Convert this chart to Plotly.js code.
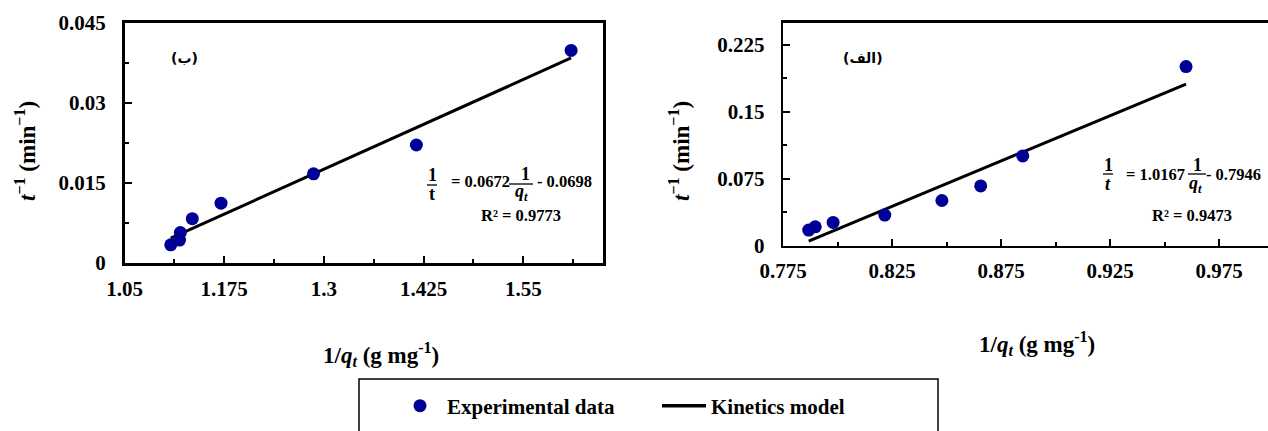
<!DOCTYPE html>
<html>
<head>
<meta charset="utf-8">
<script src="https://cdn.plot.ly/plotly-3.0.1.min.js"></script>
<style>html,body{margin:0;padding:0;overflow:hidden;background:#fff}#chart{width:1268px;height:431px}</style>
</head>
<body>
<div id="chart"></div>
<script>
// ---- data ----
const leftX  = [1.108, 1.119, 1.120, 1.135, 1.171, 1.287, 1.416, 1.610];
const leftY  = [0.0034, 0.0043, 0.0057, 0.0083, 0.0112, 0.0167, 0.0221, 0.0398];
const rightX = [0.7867, 0.7897, 0.7979, 0.8216, 0.8478, 0.8656, 0.8849, 0.9598];
const rightY = [0.0175, 0.0212, 0.0261, 0.0343, 0.0507, 0.0670, 0.1006, 0.2008];
const leftSlope = 0.0672, leftIntercept = -0.0698, leftR2 = '0.9773';
const rightSlope = 1.0167, rightIntercept = -0.7946, rightR2 = '0.9473';
const seriesNames = ['Experimental data', 'Kinetics model'];
const panelLabels = ['(ب)', '(الف)'];
// tick labels
const leftXTicks  = ['1.05', '1.175', '1.3', '1.425', '1.55'];
const leftYTicks  = ['0', '0.015', '0.03', '0.045'];
const rightXTicks = ['0.775', '0.825', '0.875', '0.925', '0.975'];
const rightYTicks = ['0', '0.075', '0.15', '0.225'];

// ---- helpers ----
const W = 1268, H = 431;
const px = x => x / W;
const py = y => 1 - y / H;
const FONT = 'Liberation Serif';
const ARFONT = 'DejaVu Sans';
const DOT = '#000099';
const b = s => '<b>' + s + '</b>';

function fitLine(xs, m, c) {
  const x0 = Math.min(...xs), x1 = Math.max(...xs);
  return {x: [x0, x1], y: [m * x0 + c, m * x1 + c]};
}
const lFit = fitLine(leftX, leftSlope, leftIntercept);
const rFit = fitLine(rightX, rightSlope, rightIntercept);

const traces = [
  {x: lFit.x, y: lFit.y, mode: 'lines', line: {color: 'black', width: 3}, name: b(seriesNames[1]), xaxis: 'x', yaxis: 'y', showlegend: false},
  {x: leftX, y: leftY, mode: 'markers', marker: {color: DOT, size: 13}, name: b(seriesNames[0]), xaxis: 'x', yaxis: 'y', showlegend: true},
  {x: [null], y: [null], mode: 'lines', line: {color: 'black', width: 3.5}, name: b(seriesNames[1]), xaxis: 'x', yaxis: 'y', showlegend: true},
  {x: rFit.x, y: rFit.y, mode: 'lines', line: {color: 'black', width: 3}, name: b(seriesNames[1]), xaxis: 'x2', yaxis: 'y2', showlegend: false},
  {x: rightX, y: rightY, mode: 'markers', marker: {color: DOT, size: 13}, name: b(seriesNames[0]), xaxis: 'x2', yaxis: 'y2', showlegend: false}
];

const tickFont = {family: FONT, size: 21, color: 'black'};
function axis(labels, extra) {
  return Object.assign({
    showgrid: false, zeroline: false, showline: true, linecolor: 'black', linewidth: 2.5,
    mirror: true, ticks: 'inside', ticklen: 7, tickwidth: 2, tickcolor: 'black',
    tickfont: tickFont, ticklabelstandoff: 12, fixedrange: true,
    tickmode: 'array', tickvals: labels.map(Number), ticktext: labels.map(b)
  }, extra);
}

const annFont = (size, fam) => ({family: fam || FONT, size: size, color: 'black'});
function ann(text, x, y, size, xanchor, extra) {
  return Object.assign({text: b(text), xref: 'paper', yref: 'paper', x: px(x), y: py(y), xanchor: xanchor || 'center', yanchor: 'middle', showarrow: false, font: annFont(size)}, extra || {});
}
function bar(x0, x1, y) {
  return {type: 'line', xref: 'paper', yref: 'paper', x0: px(x0), x1: px(x1), y0: py(y), y1: py(y), line: {color: 'black', width: 1.3}};
}

const yTitle = '<i>t</i><sup>−1</sup> (min<sup>−1</sup>)';
const xTitle = '1/<i>q<sub>t</sub></i> (g mg<sup>-1</sup>)';

const annotations = [
  ann(yTitle, 25, 151, 23, 'center', {textangle: -90}),
  ann(yTitle, 679, 151, 23, 'center', {textangle: -90}),
  ann(xTitle, 381, 354, 23),
  ann(xTitle, 1037, 343, 23),
  ann(panelLabels[0], 184, 58, 14, 'center', {font: annFont(14, ARFONT)}),
  ann(panelLabels[1], 863, 58, 14, 'center', {font: annFont(14, ARFONT)}),
  // left equation
  ann('1', 432, 175, 18),
  ann('t', 432, 194, 18),
  ann('= ' + leftSlope.toFixed(4), 449, 182, 16.5, 'left'),
  ann('1', 525, 174, 18),
  ann('<i>q<sub>t</sub></i>', 521, 193, 18),
  ann('- ' + Math.abs(leftIntercept).toFixed(4), 535, 182, 16.5, 'left'),
  ann('R² = ' + leftR2, 521, 215, 16.5),
  // right equation
  ann('1', 1108, 165, 18),
  ann('<i>t</i>', 1108, 184, 18),
  ann('= ' + rightSlope.toFixed(4), 1124, 174, 16.5, 'left'),
  ann('1', 1197, 165, 18),
  ann('<i>q<sub>t</sub></i>', 1195, 184, 18),
  ann('- ' + Math.abs(rightIntercept).toFixed(4), 1204, 174, 16.5, 'left'),
  ann('R² = ' + rightR2, 1192, 215, 16.5)
];

const shapes = [
  bar(427, 437, 185), bar(509, 533, 184),
  bar(1103, 1113, 174), bar(1188, 1206, 174),
  {type: 'rect', xref: 'paper', yref: 'paper', x0: px(359), x1: px(938), y0: py(379), y1: py(470), line: {color: 'black', width: 1.5}, fillcolor: 'rgba(0,0,0,0)'}
];

const minor = (d, t0) => ({dtick: d, tick0: t0, ticks: 'inside', ticklen: 4, tickwidth: 2, tickcolor: 'black'});

const layout = {
  width: W, height: H,
  margin: {l: 0, r: 0, t: 0, b: 0},
  paper_bgcolor: 'white', plot_bgcolor: 'white',
  showlegend: true,
  legend: {orientation: 'h', x: px(393), xanchor: 'left', y: py(406), yanchor: 'middle',
           font: {family: FONT, size: 21, color: 'black'},
           itemwidth: 44, entrywidth: 205, entrywidthmode: 'pixels', bgcolor: 'rgba(0,0,0,0)', borderwidth: 0},
  xaxis: axis(leftXTicks, {domain: [px(124.5), px(603)], range: [1.05, 1.65], ticklabelstandoff: 5, minor: minor(0.0625, 1.05), anchor: 'y'}),
  yaxis: axis(leftYTicks, {domain: [py(263), py(22.7)], range: [0, 0.045], minor: minor(0.0075, 0), anchor: 'x'}),
  xaxis2: axis(rightXTicks, {domain: [px(783.2), 1], range: [0.775, 0.9974], ticklabelstandoff: 5, minor: minor(0.025, 0.775), anchor: 'y2'}),
  yaxis2: axis(rightYTicks, {domain: [py(245.7), py(22.7)], range: [0, 0.25], minor: minor(0.0375, 0), anchor: 'x2'}),
  annotations: annotations,
  shapes: shapes
};

Plotly.newPlot('chart', traces, layout, {staticPlot: true, displayModeBar: false});
</script>
</body>
</html>
